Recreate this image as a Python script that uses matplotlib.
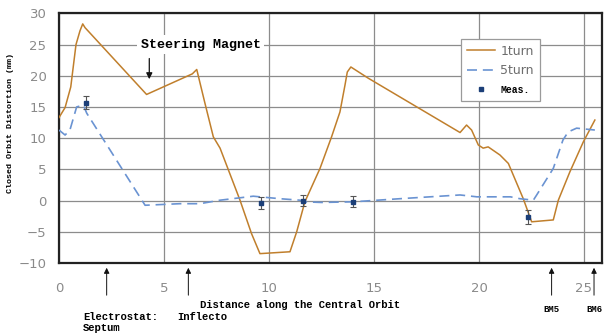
import matplotlib
matplotlib.use("Agg")
import matplotlib.pyplot as plt
from matplotlib.lines import Line2D

# Closed orbit distortion along the central orbit
x_1turn = [0.0, 0.29, 0.56, 0.81, 1.0, 1.13, 1.24, 4.17, 6.35, 6.56, 6.95, 7.35, 7.67,
           8.62, 9.17, 9.57, 11.0, 11.32, 11.71, 12.43, 12.98, 13.38, 13.62, 13.73,
           13.90, 14.73, 19.1, 19.41, 19.65, 19.97, 20.2, 20.44, 21.0, 21.4, 22.11,
           22.51, 23.54, 23.78, 24.33, 24.97, 25.52]
y_1turn = [13.3, 14.9, 18.2, 25.0, 27.2, 28.3, 27.7, 17.0, 20.3, 21.0, 15.6, 10.2, 8.4,
           0.06, -5.3, -8.5, -8.2, -5.0, -0.2, 5.15, 10.2, 14.2, 18.5, 20.6,
           21.4, 19.6, 10.9, 12.1, 11.3, 8.9, 8.4, 8.6, 7.3, 5.95, 0.3,
           -3.4, -3.1, 0.06, 4.6, 9.4, 12.9]

x_5turn = [0.0, 0.29, 0.52, 0.84, 1.16, 1.32, 4.1, 5.76, 6.71, 7.67, 9.25, 10.52, 11.48,
           11.71, 12.5, 14.0, 16.24, 19.1, 19.9, 21.5, 21.95, 22.59, 22.75, 23.54,
           24.0, 24.25, 24.65, 25.52]
y_5turn = [11.3, 10.5, 11.3, 15.0, 15.3, 14.0, -0.75, -0.5, -0.5, 0.06, 0.7, 0.3, 0.06,
           -0.2, -0.3, -0.2, 0.3, 0.9, 0.6, 0.6, 0.3, 0.06, 0.9, 5.15,
           9.7, 11.0, 11.6, 11.3]

x_meas = [1.29, 9.6, 11.63, 14.0, 22.35]
y_meas = [15.7, -0.4, 0.0, -0.2, -2.6]
err_meas = [1.0, 1.0, 0.9, 0.9, 1.1]

x_ticks = [0, 5, 10, 15, 20, 25]
y_ticks = [-10, -5, 0, 5, 10, 15, 20, 25, 30]

# element positions marked below the axis
elem_x = [2.27, 6.16, 23.46, 25.48]

ORANGE = "#c07f2c"
BLUE = "#6a93d2"
NAVY = "#1c3f78"
MONO = "Liberation Mono"

fig = plt.figure(figsize=(6.04, 3.35), dpi=100)
ax = fig.add_axes([59 / 604, (335 - 263) / 335, (602 - 59) / 604, (263 - 13.3) / 335])

ax.plot(x_1turn, y_1turn, color=ORANGE, lw=1.1, zorder=3)
ax.plot(x_5turn, y_5turn, color=BLUE, lw=1.2, dashes=(6, 3.5), zorder=3)
ax.errorbar(x_meas, y_meas, yerr=err_meas, fmt="s", ms=2.5, color=NAVY,
            ecolor="#555555", elinewidth=0.8, capsize=2.2, capthick=0.8, zorder=4)

ax.set_xlim(0, 25.86)
ax.set_ylim(-10, 30)
ax.set_xticks(x_ticks)
ax.set_yticks(y_ticks)
ax.set_yticklabels([str(v).replace("-", "\u2212") for v in y_ticks])
ax.tick_params(axis="both", length=0, colors="#8a8a8a", labelsize=9.5)
ax.tick_params(axis="x", pad=14)
ax.tick_params(axis="y", pad=9)
ax.grid(True, color="#8c8c8c", lw=0.9)
ax.set_axisbelow(True)
for sp in ax.spines.values():
    sp.set_linewidth(1.6)
    sp.set_color("#222222")

ax.set_ylabel("Closed Orbit Distortion (mm)", family=MONO, weight="bold",
              fontsize=6, labelpad=14)
ax.yaxis.set_label_coords(-0.083, 0.56)

# steering magnet marker
ax.annotate("", xy=(4.3, 19.0), xytext=(4.3, 23.2),
            arrowprops=dict(arrowstyle="-|>", color="#111111", lw=0.9,
                            mutation_scale=9), zorder=5)
ax.text(3.9, 25.0, "Steering Magnet", family=MONO, weight="bold", fontsize=9.6,
        ha="left", va="center", zorder=5,
        bbox=dict(facecolor="white", edgecolor="none", pad=2.5))

# elements along the orbit
tr = ax.get_xaxis_transform()
for ex in elem_x:
    ax.annotate("", xy=(ex, -0.008), xytext=(ex, -0.14), xycoords=tr, textcoords=tr,
                arrowprops=dict(arrowstyle="-|>", color="#111111", lw=0.7,
                                mutation_scale=8), annotation_clip=False)

ax.text(6.71, -0.168, "Distance along the Central Orbit", transform=tr, family=MONO,
        weight="bold", fontsize=7.6, ha="left", va="center")
ax.text(1.14, -0.215, "Electrostat:", transform=tr, family=MONO, weight="bold",
        fontsize=7.6, ha="left", va="center")
ax.text(1.14, -0.262, "Septum", transform=tr, family=MONO, weight="bold",
        fontsize=7.6, ha="left", va="center")
ax.text(5.62, -0.215, "Inflecto", transform=tr, family=MONO, weight="bold",
        fontsize=7.6, ha="left", va="center")
ax.text(23.46, -0.188, "BM5", transform=tr, family=MONO, weight="bold",
        fontsize=6.5, ha="center", va="center")
ax.text(25.13, -0.188, "BM6", transform=tr, family=MONO, weight="bold",
        fontsize=6.5, ha="left", va="center")

handles = [
    Line2D([], [], color=ORANGE, lw=1.1),
    Line2D([], [], color=BLUE, lw=1.2, dashes=(6, 3.5)),
    Line2D([], [], color=NAVY, marker="s", ms=2.5, ls="none"),
]
leg = fig.legend(handles, ["1turn", "5turn", "Meas."], loc="upper left",
                 bbox_to_anchor=(461 / 604, 1 - 39 / 335), fontsize=9,
                 handlelength=2.3, handletextpad=0.4, labelspacing=0.55,
                 borderpad=0.45, borderaxespad=0, fancybox=False, framealpha=1,
                 edgecolor="#9a9a9a")
leg.get_frame().set_linewidth(0.9)
for t in leg.get_texts()[:2]:
    t.set_color("#6d6d6d")
leg.get_texts()[2].set_fontproperties(dict(family=MONO, weight="bold", size=7))

fig.savefig("out.png", dpi=100)
